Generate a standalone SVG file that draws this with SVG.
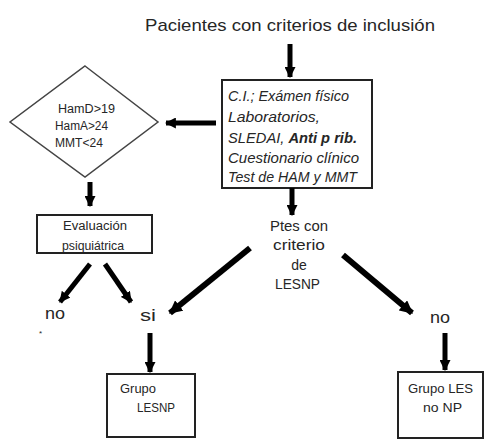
<svg xmlns="http://www.w3.org/2000/svg" width="489" height="440" viewBox="0 0 489 440">
<defs>
<marker id="ah" viewBox="0 0 10 10" refX="9" refY="5" markerWidth="2.2" markerHeight="2.2" orient="auto" markerUnits="strokeWidth">
<path d="M0,0 L10,5 L0,10 z" fill="#000"/>
</marker>
<style>
.t{font-family:"Liberation Sans",Arial,sans-serif;fill:#262626;}
.box{fill:#fff;stroke:#222;stroke-width:2;}
.c{stroke:#000;stroke-width:5;fill:none;marker-end:url(#ah);}
.cw{stroke:#000;stroke-width:6;fill:none;marker-end:url(#ah);}
</style>
</defs>
<rect width="489" height="440" fill="#fff"/>
<g id="title"><text class="t" x="145" y="31" font-size="17" textLength="290" lengthAdjust="spacingAndGlyphs">Pacientes con criterios de inclusión</text></g>
<g id="exam">
<rect class="box" x="222" y="80" width="150" height="108"/>
<text class="t" x="228" y="101" font-size="14" font-style="italic" textLength="121" lengthAdjust="spacingAndGlyphs">C.I.; Exámen físico</text>
<text class="t" x="228" y="122" font-size="14" font-style="italic" textLength="92" lengthAdjust="spacingAndGlyphs">Laboratorios,</text>
<text class="t" x="228" y="143" font-size="14" font-style="italic" textLength="129" lengthAdjust="spacingAndGlyphs">SLEDAI, <tspan font-weight="bold">Anti p rib.</tspan></text>
<text class="t" x="228" y="163" font-size="14" font-style="italic" textLength="131" lengthAdjust="spacingAndGlyphs">Cuestionario clínico</text>
<text class="t" x="228" y="182" font-size="14" font-style="italic" textLength="129" lengthAdjust="spacingAndGlyphs">Test de HAM y MMT</text>
</g>
<g id="diamond">
<polygon points="85,66 158,122 85,177 10,122" fill="#fff" stroke="#444" stroke-width="1.5"/>
<text class="t" x="58" y="113" font-size="12" textLength="57" lengthAdjust="spacingAndGlyphs">HamD&gt;19</text>
<text class="t" x="55" y="130" font-size="12" textLength="53" lengthAdjust="spacingAndGlyphs">HamA&gt;24</text>
<text class="t" x="55" y="147" font-size="12" textLength="48" lengthAdjust="spacingAndGlyphs">MMT&lt;24</text>
</g>
<g id="eval">
<rect class="box" x="37" y="215" width="115" height="38"/>
<text class="t" x="63" y="230" font-size="12" textLength="64" lengthAdjust="spacingAndGlyphs">Evaluación</text>
<text class="t" x="62" y="250" font-size="12" textLength="62" lengthAdjust="spacingAndGlyphs">psiquiátrica</text>
</g>
<g id="ptes">
<text class="t" x="270" y="231" font-size="14" textLength="58" lengthAdjust="spacingAndGlyphs">Ptes con</text>
<text class="t" x="273" y="250" font-size="14" textLength="52" lengthAdjust="spacingAndGlyphs">criterio</text>
<text class="t" x="299" y="270" font-size="14" text-anchor="middle">de</text>
<text class="t" x="275" y="289" font-size="14" textLength="45" lengthAdjust="spacingAndGlyphs">LESNP</text>
</g>
<g id="no-left">
<text class="t" x="45" y="319" font-size="16" textLength="20" lengthAdjust="spacingAndGlyphs">no</text>
<text class="t" x="39" y="336" font-size="8">*</text>
</g>
<g id="si"><text class="t" x="140" y="321" font-size="16" textLength="16" lengthAdjust="spacingAndGlyphs">si</text></g>
<g id="no-right"><text class="t" x="430" y="323" font-size="16" textLength="20" lengthAdjust="spacingAndGlyphs">no</text></g>
<g id="grupo-lesnp">
<rect class="box" x="107" y="374" width="88" height="63" stroke-width="2.5"/>
<text class="t" x="120" y="393" font-size="13" textLength="36" lengthAdjust="spacingAndGlyphs">Grupo</text>
<text class="t" x="137" y="412" font-size="13" textLength="38" lengthAdjust="spacingAndGlyphs">LESNP</text>
</g>
<g id="grupo-les">
<rect class="box" x="398" y="372" width="85" height="66" stroke-width="2.5"/>
<text class="t" x="408" y="393" font-size="13" textLength="65" lengthAdjust="spacingAndGlyphs">Grupo LES</text>
<text class="t" x="423" y="412" font-size="13" textLength="39" lengthAdjust="spacingAndGlyphs">no NP</text>
</g>
<g id="connectors">
<line class="c" x1="290" y1="44" x2="290" y2="77"/>
<line class="c" x1="216" y1="123" x2="166" y2="123"/>
<line class="c" x1="90" y1="182" x2="90" y2="206"/>
<line class="c" x1="292" y1="188" x2="292" y2="215"/>
<line class="c" x1="90" y1="264" x2="60" y2="302"/>
<line class="c" x1="105" y1="264" x2="131" y2="302"/>
<line class="cw" x1="250" y1="248" x2="170" y2="313"/>
<line class="cw" x1="343" y1="255" x2="412" y2="313"/>
<line class="c" x1="150" y1="333" x2="150" y2="372"/>
<line class="c" x1="445" y1="333" x2="445" y2="370"/>
</g>
</svg>
